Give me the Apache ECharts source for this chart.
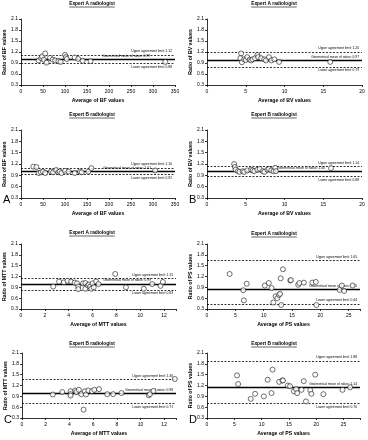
<!DOCTYPE html>
<html><head><meta charset="utf-8">
<script src="https://cdn.jsdelivr.net/npm/echarts@6/dist/echarts.min.js"></script>
<style>html,body{margin:0;padding:0;background:#fff}#c{width:368px;height:440px}</style>
</head><body><div id="c"></div>
<script>
// ---- DATA ----
const bfA_x = [40,46,48,52,55,58,66,72,78,85,90,100,102,104,122,130,140,158,328];
const bfA_y = [0.97,1.03,1.08,0.99,1.16,0.91,1.04,0.99,0.97,0.95,0.93,1.12,1.06,1.01,1.05,1.01,0.96,0.95,0.93];
const bfA_lim = [1.12, 0.99, 0.88];

const bvA_x = [4.4,4.3,4.5,4.8,5.0,5.2,5.5,5.7,5.9,6.2,6.5,6.6,7.0,7.4,7.6,8.0,8.3,8.7,9.3,15.9];
const bvA_y = [1.16,1.03,0.92,1.00,0.98,1.06,0.99,0.97,1.00,1.03,1.12,1.06,1.03,1.00,0.97,1.06,0.97,1.00,0.93,0.93];
const bvA_lim = [1.20, 0.97, 0.79];

const bfB_x = [28,35,40,45,50,55,68,73,80,85,88,92,100,108,122,134,138,153,160,305];
const bfB_y = [1.13,1.12,0.96,0.98,1.00,0.96,1.00,0.98,1.04,0.98,1.00,0.96,1.02,1.00,0.96,1.00,0.98,1.00,1.09,1.03];
const bfB_lim = [1.10, 1.01, 0.92];

const bvB_x = [3.5,3.6,3.7,4.0,4.2,4.6,4.8,5.2,5.7,5.9,6.1,6.5,6.8,7.2,7.4,7.8,8.0,8.3,8.6,8.8,8.9,16.0];
const bvB_y = [1.20,1.12,1.05,1.01,0.99,1.01,0.99,1.03,1.05,1.03,1.01,1.05,1.07,1.01,0.99,1.05,1.07,1.03,1.01,1.10,1.01,1.09];
const bvB_lim = [1.14, 1.00, 0.88];

const mttA_x = [2.7,3.2,3.6,3.9,4.2,4.5,4.7,4.8,4.8,5.2,5.4,5.4,5.6,5.7,5.8,5.9,6.0,6.1,6.3,6.5,7.9,8.8,10.3,11.0,11.7,11.9];
const mttA_y = [0.92,1.06,1.04,1.08,1.06,1.03,1.01,0.92,0.85,1.01,0.86,1.02,0.95,0.98,0.92,0.86,1.01,0.90,1.06,0.99,1.27,0.90,0.86,0.99,0.94,1.05];
const mttA_lim = [1.15, 0.99, 0.83];

const psA_x = [4.0,6.4,6.5,7.0,10.2,10.9,11.4,11.7,12.1,12.4,12.7,12.9,13.0,13.1,13.4,14.7,14.8,16.1,16.3,17.1,18.6,19.2,19.3,23.4,23.8,24.2,25.7];
const psA_y = [1.27,0.82,0.54,1.00,0.95,1.02,0.88,0.48,0.65,0.60,0.69,0.72,1.15,0.41,1.40,1.09,1.10,0.97,1.02,1.03,1.03,1.05,0.41,0.83,0.95,0.80,0.95];
const psA_lim = [1.65, 0.85, 0.44];

const mttB_x = [2.6,3.4,4.1,4.1,4.1,4.5,4.6,4.8,5.0,5.2,5.3,5.4,5.6,5.9,6.1,6.5,7.2,7.7,8.4,10.7,10.8,11.1,12.9];
const mttB_y = [0.95,1.02,1.04,0.96,0.92,1.06,1.02,1.08,0.96,0.53,1.04,0.95,1.06,1.04,1.08,1.10,0.96,0.96,0.99,0.93,0.96,1.05,1.38];
const mttB_lim = [1.36, 0.98, 0.71];

const psB_x = [5.5,5.7,8.0,8.8,10.4,11.1,11.8,12.0,13.2,13.8,13.9,14.8,15.2,15.9,16.3,16.5,17.3,17.7,18.1,18.9,19.1,19.8,21.3,24.8,26.2];
const psB_y = [1.48,1.24,0.83,0.97,0.90,1.36,0.99,1.64,1.30,1.34,1.34,1.20,1.18,1.04,1.10,0.99,1.08,1.32,0.76,1.07,0.97,1.50,0.96,1.08,1.15];
const psB_lim = [1.88, 1.14, 0.70];

const yTicks = [0.3, 2.1, 0.3]; // min, max, interval
const panelTitles = ['Expert A radiologist','Expert A radiologist','Expert B radiologist','Expert B radiologist','Expert A radiologist','Expert A radiologist','Expert B radiologist','Expert B radiologist'];
const xNames = ['Average of BF values','Average of BV values','Average of BF values','Average of BV values','Average of MTT values','Average of PS values','Average of MTT values','Average of PS values'];
const yNames = ['Ratio of BF values','Ratio of BV values','Ratio of BF values','Ratio of BV values','Ratio of MTT values','Ratio of PS values','Ratio of MTT values','Ratio of PS values'];
const xMaxes = [350,20,350,20,13,27,13,28];
const xIntervals = [50,5,50,5,2,5,2,5];
const panelLetters = ['','','A','B','','','C','D'];

// ---- LAYOUT ----
const FONT = 'Liberation Sans, Arial, sans-serif';
const layouts = [
  {left:21, top:19, w:154, h:66, meanPad:23, lowTop:false, tx:92, ty:4},
  {left:207,top:19, w:155, h:66, meanPad:1, lowTop:false, tx:274, ty:4},
  {left:21, top:130,w:154, h:68, meanPad:22, lowTop:false, tx:92, ty:115},
  {left:207,top:130,w:155, h:68, meanPad:35, lowTop:false, tx:274, ty:115},
  {left:21, top:244,w:155, h:65, meanPad:23, lowTop:false, tx:92, ty:233},
  {left:207,top:244,w:153, h:65, meanPad:1, lowTop:true, tx:274, ty:234},
  {left:22, top:353,w:154, h:65, meanPad:1, lowTop:false, tx:92, ty:344},
  {left:207,top:353,w:153, h:65, meanPad:1, lowTop:false, tx:274, ty:344}
];
const datasets = [
  [bfA_x,bfA_y,bfA_lim],[bvA_x,bvA_y,bvA_lim],[bfB_x,bfB_y,bfB_lim],[bvB_x,bvB_y,bvB_lim],
  [mttA_x,mttA_y,mttA_lim],[psA_x,psA_y,psA_lim],[mttB_x,mttB_y,mttB_lim],[psB_x,psB_y,psB_lim]
];

const measure = (() => { const c = document.createElement('canvas').getContext('2d'); return (t, f) => { c.font = f; return c.measureText(t).width; }; })();

const grids = [], xAxes = [], yAxes = [], series = [], graphics = [];
layouts.forEach((L, i) => {
  const [xs, ys, lim] = datasets[i];
  grids.push({left:L.left, top:L.top, width:L.w, height:L.h, containLabel:false});
  const axLine = {show:true, lineStyle:{color:'#000', width:0.8}};
  const xi = xIntervals[i];
  xAxes.push({type:'value', gridIndex:i, min:0, max:xMaxes[i], interval:xi,
    axisLine:axLine, axisTick:{show:true, length:2, lineStyle:{color:'#000', width:0.8}},
    splitLine:{show:false},
    axisLabel:{fontSize:5, color:'#000', margin:4, fontFamily:FONT,
      formatter: v => (Math.abs(v / xi - Math.round(v / xi)) < 1e-6 ? String(v) : '')},
    name:xNames[i], nameLocation:'middle', nameGap:13,
    nameTextStyle:{fontSize:5.2, fontWeight:'bold', color:'#000', fontFamily:FONT}});
  yAxes.push({type:'value', gridIndex:i, min:yTicks[0], max:yTicks[1], interval:yTicks[2],
    axisLine:axLine, axisTick:{show:true, length:2, lineStyle:{color:'#000', width:0.8}},
    splitLine:{show:false},
    axisLabel:{fontSize:5, color:'#000', margin:3, fontFamily:FONT, formatter: v => v.toFixed(1)},
    name:yNames[i], nameLocation:'middle', nameGap:12, nameRotate:90,
    nameTextStyle:{fontSize:5.2, fontWeight:'bold', color:'#000', fontFamily:FONT}});
  const lbl = (txt, pos, pad) => ({show:true, position:pos, formatter:txt, fontSize:3.3, color:'#000',
    fontFamily:FONT, distance:2, padding:[0, pad || 0, 0, 0]});
  series.push({type:'scatter', xAxisIndex:i, yAxisIndex:i, z:3,
    data: xs.map((x, k) => [x, ys[k]]), symbol:'circle', symbolSize:5,
    itemStyle:{color:'#fff', borderColor:'#000', borderWidth:0.7},
    markLine:{silent:true, symbol:'none', animation:false, z:2,
      data:[
        {yAxis:lim[0], lineStyle:{type:[2,1.5], color:'#000', width:0.8},
         label:lbl('Upper agreement limit: ' + lim[0].toFixed(2), 'insideEndTop', 1)},
        {yAxis:lim[1], lineStyle:{type:'solid', color:'#000', width:1.3},
         label:lbl('Geometrical mean of ratios: ' + lim[1].toFixed(2), 'insideEndTop', L.meanPad)},
        {yAxis:lim[2], lineStyle:{type:[2,1.5], color:'#000', width:0.8},
         label:lbl('Lower agreement limit: ' + lim[2].toFixed(2), L.lowTop ? 'insideEndTop' : 'insideEndBottom', 1)}
      ]}});
  const tf = 'bold 4.8px ' + FONT;
  const tw = measure(panelTitles[i], tf);
  graphics.push({type:'text', x:L.tx, y:L.ty, style:{text:panelTitles[i], font:tf, fill:'#000', textAlign:'center', textVerticalAlign:'middle'}});
  graphics.push({type:'line', shape:{x1:L.tx - tw/2, y1:L.ty + 3, x2:L.tx + tw/2, y2:L.ty + 3}, style:{stroke:'#000', lineWidth:0.6}});
  if (panelLetters[i]) {
    graphics.push({type:'text', x:L.left - 18, y:L.top + L.h + 2, style:{text:panelLetters[i], font:'11px ' + FONT, fill:'#000', textAlign:'left', textVerticalAlign:'middle'}});
  }
});

const chart = echarts.init(document.getElementById('c'), null, {renderer:'canvas'});
chart.setOption({animation:false, backgroundColor:'#fff', grid:grids, xAxis:xAxes, yAxis:yAxes, series:series, graphic:graphics});
</script>
</body></html>
